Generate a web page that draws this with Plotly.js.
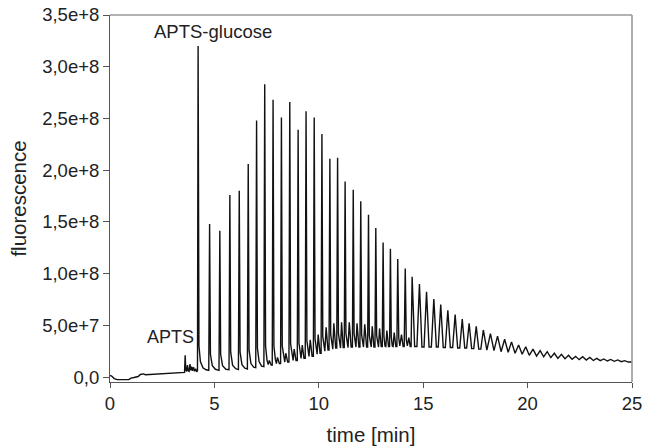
<!DOCTYPE html>
<html>
<head>
<meta charset="utf-8">
<script src="https://cdn.plot.ly/plotly-3.0.1.min.js"></script>
<style>
  html, body { margin: 0; padding: 0; background: #fff; }
  #chart { width: 645px; height: 446px; }
</style>
</head>
<body>
<div id="chart"></div>
<script>
// Signal values are given in units of 1e7 (fluorescence counts)
const UNIT = 1e7;

// 0 - 4.2 min : baseline, APTS peak and small bumps
const startTime = [0, 0.08, 0.2, 0.35, 0.9, 1.0, 1.15, 1.35, 1.45, 1.6, 1.7, 2.5, 3.5, 3.57, 3.6, 3.63, 3.67, 3.71, 3.75, 3.79, 3.83, 3.87, 3.91, 3.95, 4.0, 4.05, 4.1, 4.15, 4.19];
const startSignal = [0.15, 0.1, -0.15, -0.25, -0.25, -0.1, -0.05, 0.05, 0.25, 0.3, 0.22, 0.3, 0.4, 0.45, 2.1, 0.7, 0.55, 1.15, 0.6, 0.55, 1.25, 0.65, 1.0, 0.6, 0.95, 0.55, 0.8, 0.5, 0.6];

// 4.2 - 7.4 min : APTS-glucose and first oligomer peaks
const earlyTime = [4.22, 4.26, 4.33, 4.45, 4.6, 4.73,
  4.77, 4.81, 4.9, 5.05, 5.22,
  5.26, 5.30, 5.39, 5.55, 5.70,
  5.74, 5.78, 5.87, 6.02, 6.15,
  6.19, 6.23, 6.32, 6.46, 6.58,
  6.62, 6.66, 6.75, 6.88, 6.98,
  7.02, 7.06, 7.14, 7.26, 7.37];
const earlySignal = [32.0, 3.0, 1.5, 0.9, 0.7, 0.65,
  14.8, 2.2, 1.1, 0.75, 0.65,
  14.15, 2.2, 1.1, 0.75, 0.7,
  17.6, 2.4, 1.15, 0.8, 0.72,
  18.0, 2.4, 1.2, 0.85, 0.78,
  20.6, 2.6, 1.3, 0.95, 0.9,
  24.8, 2.8, 1.5, 1.05, 1.0];

// 7.4 - 14.4 min : main ladder with the smaller secondary ladder in between
const midTime = [7.41, 7.45, 7.52, 7.58, 7.63, 7.72, 7.77,
  7.81, 7.85, 7.92, 7.97, 8.02, 8.11, 8.17,
  8.21, 8.25, 8.32, 8.37, 8.42, 8.51, 8.57,
  8.61, 8.65, 8.72, 8.77, 8.82, 8.91, 8.97,
  9.01, 9.05, 9.11, 9.15, 9.21, 9.29, 9.35,
  9.39, 9.43, 9.49, 9.53, 9.59, 9.68, 9.74,
  9.78, 9.82, 9.88, 9.92, 9.97, 10.06, 10.11,
  10.15, 10.19, 10.25, 10.29, 10.35, 10.44, 10.49,
  10.53, 10.57, 10.63, 10.67, 10.72, 10.81, 10.86,
  10.90, 10.94, 11.0, 11.04, 11.09, 11.17, 11.22,
  11.26, 11.30, 11.36, 11.40, 11.46, 11.55, 11.61,
  11.65, 11.69, 11.75, 11.78, 11.83, 11.92, 11.97,
  12.01, 12.05, 12.11, 12.14, 12.20, 12.29, 12.34,
  12.38, 12.42, 12.48, 12.51, 12.56, 12.64, 12.69,
  12.73, 12.77, 12.82, 12.86, 12.91, 12.99, 13.04,
  13.08, 13.12, 13.17, 13.21, 13.26, 13.34, 13.39,
  13.43, 13.47, 13.52, 13.56, 13.61, 13.69, 13.74,
  13.78, 13.83, 13.88, 13.96, 14.04, 14.09,
  14.14, 14.19, 14.24, 14.31, 14.38, 14.42];
const midSignal = [28.3, 3.0, 1.6, 1.2, 1.6, 1.15, 1.15,
  26.8, 3.0, 1.7, 1.3, 1.9, 1.3, 1.3,
  25.1, 3.0, 1.8, 1.45, 2.3, 1.45, 1.45,
  26.6, 3.2, 2.0, 1.6, 2.7, 1.6, 1.6,
  23.9, 3.3, 2.2, 1.8, 3.1, 1.8, 1.8,
  25.7, 3.5, 2.4, 2.0, 3.6, 2.0, 2.0,
  25.1, 3.7, 2.6, 2.2, 4.1, 2.3, 2.3,
  23.5, 3.9, 2.8, 2.5, 4.8, 2.6, 2.6,
  21.1, 4.1, 3.0, 2.7, 5.2, 2.8, 2.8,
  21.2, 4.2, 3.0, 2.8, 5.3, 2.85, 2.85,
  18.9, 4.2, 3.0, 2.85, 5.3, 2.9, 2.9,
  18.1, 4.2, 3.0, 2.9, 5.2, 2.9, 2.9,
  17.0, 4.1, 3.0, 2.9, 5.1, 2.9, 2.9,
  15.7, 4.0, 3.0, 2.9, 4.9, 2.9, 2.9,
  14.4, 4.0, 3.0, 2.9, 4.7, 2.95, 2.95,
  13.0, 3.9, 3.0, 2.95, 4.5, 2.95, 2.95,
  12.4, 3.9, 3.0, 2.95, 4.3, 2.95, 2.95,
  11.4, 3.8, 3.0, 4.1, 2.95, 2.95,
  10.5, 3.6, 3.0, 3.8, 2.95, 2.95];

// 14.4 - 25 min : decaying ladder
const lateTime = [14.47, 14.59, 14.70,
  14.82, 14.94, 15.04,
  15.16, 15.28, 15.39,
  15.51, 15.63, 15.72,
  15.84, 15.96, 16.06,
  16.18, 16.30, 16.41,
  16.53, 16.65, 16.75,
  16.87, 16.99, 17.08,
  17.20, 17.32, 17.42,
  17.54, 17.66, 17.76,
  17.88, 18.05, 18.22, 18.39, 18.56, 18.73, 18.90, 19.07,
  19.23, 19.40, 19.57, 19.74, 19.91, 20.08, 20.26, 20.43,
  20.60, 20.77, 20.94, 21.11, 21.28, 21.45, 21.62, 21.79,
  21.96, 22.13, 22.30, 22.47, 22.64, 22.81, 22.98, 23.15,
  23.31, 23.48, 23.65, 23.82, 23.98, 24.15, 24.32, 24.49,
  24.65, 24.82, 25.0];
const lateSignal = [9.7, 2.95, 2.95,
  9.0, 2.9, 2.9,
  8.25, 2.9, 2.9,
  7.55, 2.9, 2.9,
  7.0, 2.85, 2.85,
  6.45, 2.85, 2.85,
  6.05, 2.8, 2.8,
  5.6, 2.8, 2.8,
  5.2, 2.75, 2.75,
  4.9, 2.7, 2.7,
  4.55, 2.6, 4.2, 2.55, 3.95, 2.45, 3.65, 2.4,
  3.4, 2.3, 3.1, 2.2, 2.93, 2.1, 2.7, 2.03,
  2.55, 1.96, 2.45, 1.88, 2.3, 1.8, 2.2, 1.77,
  2.1, 1.72, 2.0, 1.68, 1.96, 1.64, 1.9, 1.6,
  1.8, 1.58, 1.75, 1.55, 1.7, 1.52, 1.65, 1.48,
  1.58, 1.45, 1.45];

// Axis ticks
const xTickVals = [0, 5, 10, 15, 20, 25];
const xTickText = ['0', '5', '10', '15', '20', '25'];
const yTickVals = [0, 5e7, 1e8, 1.5e8, 2e8, 2.5e8, 3e8, 3.5e8];
const yTickText = ['0,0', '5,0e+7', '1,0e+8', '1,5e+8', '2,0e+8', '2,5e+8', '3,0e+8', '3,5e+8'];

const time = [].concat(startTime, earlyTime, midTime, lateTime);
const signal = [].concat(startSignal, earlySignal, midSignal, lateSignal).map(v => v * UNIT);

const FONT = 'Liberation Sans, Arial, Helvetica, sans-serif';

const trace = {
  x: time,
  y: signal,
  type: 'scatter',
  mode: 'lines',
  line: { color: '#111111', width: 1.4 },
  hoverinfo: 'x+y'
};

const layout = {
  width: 645,
  height: 446,
  margin: { l: 110, r: 13, t: 15, b: 64 },
  paper_bgcolor: '#ffffff',
  plot_bgcolor: '#ffffff',
  showlegend: false,
  font: { family: FONT, color: '#222222', size: 18 },
  xaxis: {
    range: [0, 25],
    tickvals: xTickVals,
    ticktext: xTickText,
    ticks: 'outside',
    ticklen: 5,
    tickwidth: 1,
    tickcolor: '#555555',
    showline: true,
    linecolor: '#555555',
    linewidth: 1,
    showgrid: false,
    zeroline: false,
    tickfont: { family: FONT, size: 18.5, color: '#222222' },
    title: { text: 'time [min]', font: { family: FONT, size: 20.5, color: '#222222' }, standoff: 14 }
  },
  yaxis: {
    range: [-4.8e6, 3.5e8],
    tickvals: yTickVals,
    ticktext: yTickText,
    ticks: 'outside',
    ticklen: 6,
    tickwidth: 1,
    tickcolor: '#555555',
    showline: true,
    linecolor: '#555555',
    linewidth: 1,
    showgrid: false,
    zeroline: false,
    tickfont: { family: FONT, size: 18.5, color: '#222222' },
    title: { text: 'fluorescence', font: { family: FONT, size: 20.5, color: '#222222' }, standoff: 10 }
  },
  shapes: [
    { type: 'line', xref: 'paper', yref: 'paper', x0: 0, x1: 1, y0: 1, y1: 1, line: { color: '#999999', width: 1.6 } },
    { type: 'line', xref: 'paper', yref: 'paper', x0: 1, x1: 1, y0: 0, y1: 1, line: { color: '#999999', width: 1.6 } }
  ],
  annotations: [
    { text: 'APTS-glucose', x: 4.91, y: 3.34e8, xref: 'x', yref: 'y', showarrow: false,
      font: { family: FONT, size: 18.5, color: '#222222' } },
    { text: 'APTS', x: 2.88, y: 3.87e7, xref: 'x', yref: 'y', showarrow: false,
      font: { family: FONT, size: 18, color: '#222222' } }
  ]
};

Plotly.newPlot('chart', [trace], layout, { displayModeBar: false, staticPlot: true });
</script>
</body>
</html>
